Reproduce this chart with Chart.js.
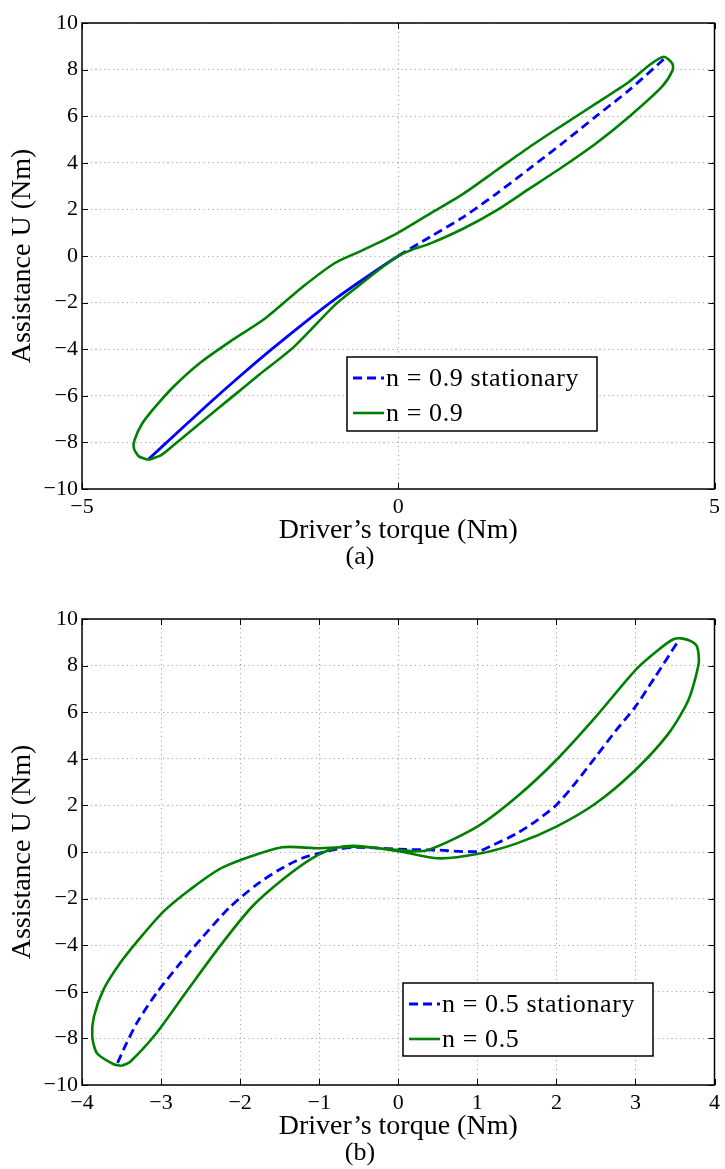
<!DOCTYPE html>
<html>
<head>
<meta charset="utf-8">
<script src="https://cdn.jsdelivr.net/npm/chart.js@4/dist/chart.umd.min.js"></script>
<style>
  html, body { margin: 0; padding: 0; background: #fff; overflow: hidden; }
  #wrapA { position: absolute; left: 0; top: 0; width: 725px; height: 590px; }
  #wrapB { position: absolute; left: 0; top: 590px; width: 725px; height: 579px; }
</style>
</head>
<body>
<div id="wrapA"><canvas id="chartA" width="725" height="590"></canvas></div>
<div id="wrapB"><canvas id="chartB" width="725" height="579"></canvas></div>
<script>
/* (a) n = 0.9 */
const torqueStatA = [-3.95, -3.5, -3.0, -2.5, -2.0, -1.5, -1.0, -0.5, 0, 0.51, 1.04, 1.56, 2.08, 2.6, 3.13, 3.65, 4.2];
const assistStatA = [-8.72, -7.6, -6.35, -5.15, -4.0, -2.9, -1.85, -0.9, 0, 0.83, 1.69, 2.69, 3.76, 4.85, 6.0, 7.12, 8.45];

const torqueLoopA = [-3.95, -4.1, -4.18, -4.17, -4.05, -3.85, -3.55, -3.14, -2.62, -2.1,
  -1.5, -1.0, -0.62, -0.25, 0, 0.51, 1.04, 1.56, 2.08, 2.6,
  3.13, 3.65, 4.0, 4.2, 4.33, 4.34, 4.17, 3.65, 3.13, 2.6,
  2.08, 1.56, 1.04, 0.51, 0.2, 0, -0.32, -0.66, -1.0, -1.65,
  -2.2, -2.65, -3.1, -3.5, -3.75, -3.95];
const assistLoopA = [-8.75, -8.6, -8.25, -7.9, -7.2, -6.5, -5.6, -4.6, -3.6, -2.67,
  -1.3, -0.3, 0.18, 0.65, 1.0, 1.83, 2.69, 3.69, 4.69, 5.62,
  6.55, 7.48, 8.25, 8.55, 8.27, 7.98, 7.27, 5.98, 4.84, 3.83,
  2.9, 1.97, 1.19, 0.54, 0.25, 0, -0.62, -1.35, -2.1, -3.9,
  -5.1, -6.1, -7.1, -8.0, -8.55, -8.75];

/* (b) n = 0.5 */
const torqueStatB = [-3.55, -3.45, -3.3, -3.06, -2.76, -2.47, -2.14, -1.8, -1.51, -1.22, -0.93, -0.76, -0.5, 0, 0.5, 1.0, 1.2, 1.5, 1.75, 2.0, 2.25, 2.5, 2.75, 3.0, 3.25, 3.55];
const assistStatB = [-9.05, -8.3, -7.3, -6.07, -4.78, -3.63, -2.4, -1.42, -0.77, -0.27, 0.01, 0.13, 0.2, 0.12, 0.08, 0.02, 0.3, 0.8, 1.35, 2.02, 3.0, 4.09, 5.2, 6.24, 7.52, 9.1];

const torqueLoopB = [-3.5, -3.6, -3.81, -3.87, -3.85, -3.73, -3.52, -3.27, -2.97, -2.64,
  -2.22, -1.47, -1.01, -0.51, 0, 0.35, 1.0, 1.5, 2.0, 2.5,
  3.0, 3.3, 3.48, 3.58, 3.7, 3.78, 3.8, 3.67, 3.42, 3.0,
  2.5, 2.0, 1.5, 1.0, 0.5, 0.04, -0.51, -0.8, -1.09, -1.47,
  -1.85, -2.26, -2.68, -3.06, -3.39, -3.5];
const assistLoopB = [-9.18, -9.11, -8.64, -7.93, -7.07, -5.92, -4.78, -3.71, -2.56, -1.63,
  -0.66, 0.2, 0.16, 0.23, 0.09, 0.06, 1.09, 2.37, 3.95, 5.81,
  7.81, 8.7, 9.13, 9.17, 9.05, 8.81, 8.1, 6.52, 5.09, 3.52,
  2.09, 1.09, 0.37, -0.09, -0.27, 0.01, 0.26, 0.16, -0.27, -1.2,
  -2.35, -4.06, -6.0, -7.78, -9.0, -9.18];

const SERIF = '"Liberation Serif", "Times New Roman", Times, serif';
const BLUE = "#0000ff";
const GREEN = "#008000";

const toPoints = (xs, ys) => xs.map((x, i) => ({ x, y: ys[i] }));
const fmt = (v) => (v < 0 ? "\u2212" + Math.abs(v) : String(v));

// box around the axes, ticks pointing inwards, legend box inside the plot
const matlabFrame = {
  id: "matlabFrame",
  afterDatasetsDraw(chart, args, opts) {
    const { ctx, chartArea: { left, right, top, bottom }, scales } = chart;
    ctx.save();
    ctx.strokeStyle = "#000";
    ctx.lineWidth = 1.5;
    ctx.setLineDash([]);
    ctx.strokeRect(left, top, right - left, bottom - top);

    ctx.lineWidth = 1;
    ctx.beginPath();
    scales.x.ticks.forEach((t) => {
      const px = Math.round(scales.x.getPixelForValue(t.value)) + 0.5;
      ctx.moveTo(px, bottom); ctx.lineTo(px, bottom - 6);
      ctx.moveTo(px, top); ctx.lineTo(px, top + 6);
    });
    scales.y.ticks.forEach((t) => {
      const py = Math.round(scales.y.getPixelForValue(t.value)) + 0.5;
      ctx.moveTo(left, py); ctx.lineTo(left + 6, py);
      ctx.moveTo(right, py); ctx.lineTo(right - 6, py);
    });
    ctx.stroke();

    // legend
    const bx = left + opts.x, by = top + opts.y;
    ctx.fillStyle = "#fff";
    ctx.fillRect(bx, by, opts.w, opts.h);
    ctx.lineWidth = 1.5;
    ctx.strokeRect(bx, by, opts.w, opts.h);
    ctx.font = "26px " + SERIF;
    ctx.textBaseline = "middle";
    ctx.textAlign = "left";
    if ("letterSpacing" in ctx) ctx.letterSpacing = "0.6px";
    chart.data.datasets.forEach((ds, i) => {
      const cy = by + 21 + i * 35;
      ctx.strokeStyle = ds.borderColor;
      ctx.lineWidth = ds.borderWidth;
      ctx.setLineDash(ds.borderDash || []);
      ctx.beginPath();
      ctx.moveTo(bx + 6, cy); ctx.lineTo(bx + 37, cy);
      ctx.stroke();
      ctx.setLineDash([]);
      ctx.fillStyle = "#000";
      ctx.fillText(ds.label, bx + 39, cy + 1);
    });
    ctx.restore();
  },
};

function makeScales(xMin, xMax, xStep) {
  return {
    x: {
      type: "linear", min: xMin, max: xMax,
      ticks: { stepSize: xStep, color: "#000", padding: 5, font: { family: SERIF, size: 22 }, callback: fmt },
      grid: { color: "#9a9a9a", lineWidth: 1, drawTicks: false },
      border: { display: false, dash: [1, 3.5] },
      title: { display: true, text: "Driver\u2019s torque (Nm)", color: "#000",
        font: { family: SERIF, size: 28, lineHeight: 1 }, padding: { top: 0, bottom: 0 } },
      afterFit: (s) => { s.height = 55.5; },
    },
    y: {
      type: "linear", min: -10, max: 10,
      ticks: { stepSize: 2, color: "#000", padding: 4, font: { family: SERIF, size: 22 }, callback: fmt },
      grid: { color: "#9a9a9a", lineWidth: 1, drawTicks: false },
      border: { display: false, dash: [1, 3.5] },
      title: { display: true, text: "Assistance U (Nm)", color: "#000",
        font: { family: SERIF, size: 28, lineHeight: 1 }, padding: { top: 9, bottom: 0 } },
      afterFit: (s) => { s.width = 82; },
    },
  };
}

function makeChart(canvasId, cfg) {
  return new Chart(document.getElementById(canvasId), {
    type: "scatter",
    data: {
      datasets: [
        {
          label: cfg.labelStat,
          data: toPoints(cfg.statX, cfg.statY),
          showLine: true, pointRadius: 0, fill: false, tension: 0.25,
          borderColor: BLUE, borderWidth: 2.8, borderDash: [9, 5], order: 1,
          segment: cfg.segment,
        },
        {
          label: cfg.labelLoop,
          data: toPoints(cfg.loopX, cfg.loopY),
          showLine: true, pointRadius: 0, fill: false, tension: 0.25,
          borderColor: GREEN, borderWidth: 2.6, order: 0,
        },
      ],
    },
    options: {
      responsive: false,
      animation: false,
      events: [],
      layout: { padding: cfg.padding },
      scales: makeScales(cfg.xMin, cfg.xMax, cfg.xStep),
      plugins: {
        legend: { display: false },
        tooltip: { enabled: false },
        title: {
          display: true, position: "bottom", text: cfg.caption, color: "#000",
          font: { family: SERIF, size: 26, weight: "normal", lineHeight: 1 },
          padding: { top: 0, bottom: 0 },
        },
        matlabFrame: cfg.legendBox,
      },
    },
    plugins: [matlabFrame],
  });
}

makeChart("chartA", {
  statX: torqueStatA, statY: assistStatA, loopX: torqueLoopA, loopY: assistLoopA,
  labelStat: "n = 0.9 stationary", labelLoop: "n = 0.9",
  xMin: -5, xMax: 5, xStep: 5, caption: "(a)",
  padding: { left: 0, right: 5, top: 23, bottom: 19.5 },
  legendBox: { x: 265, y: 334, w: 250, h: 74 },
  segment: { borderDash: (c) => (c.p1.parsed.x <= 0 ? [] : undefined) },
});

makeChart("chartB", {
  statX: torqueStatB, statY: assistStatB, loopX: torqueLoopB, loopY: assistLoopB,
  labelStat: "n = 0.5 stationary", labelLoop: "n = 0.5",
  xMin: -4, xMax: 4, xStep: 1, caption: "(b)",
  padding: { left: 0, right: 5, top: 29, bottom: 2.5 },
  legendBox: { x: 321, y: 364, w: 250, h: 73 },
  segment: {},
});
</script>
</body>
</html>
